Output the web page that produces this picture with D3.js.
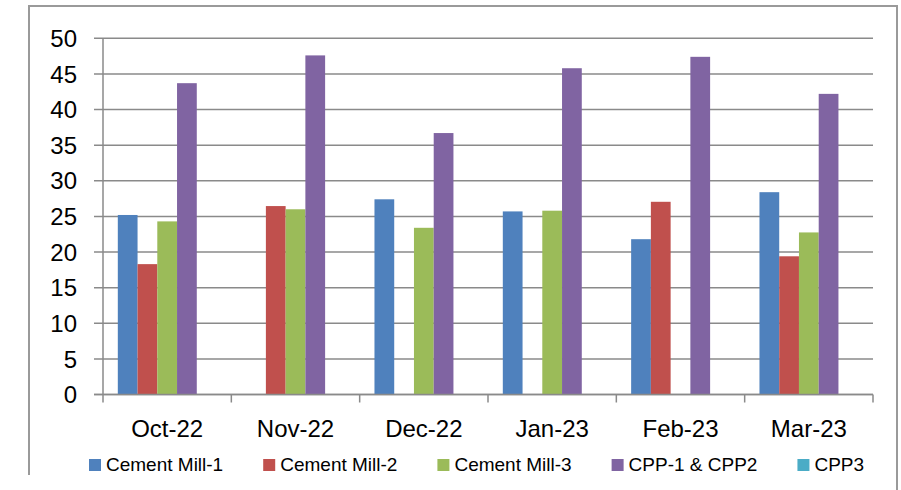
<!DOCTYPE html>
<html><head><meta charset="utf-8">
<script src="https://cdn.jsdelivr.net/npm/d3@7/dist/d3.min.js"></script>
<style>body{margin:0;background:#fff}svg{display:block}text{font-family:"Liberation Sans",Arial,sans-serif;fill:#000}</style>
</head><body><svg id="c" width="901" height="490"></svg>
<script>
const categories = ["Oct-22","Nov-22","Dec-22","Jan-23","Feb-23","Mar-23"];
const seriesNames = ["Cement Mill-1","Cement Mill-2","Cement Mill-3","CPP-1 & CPP2","CPP3"];
const cementMill1 = [25.2, 0, 27.4, 25.7, 21.8, 28.4];
const cementMill2 = [18.3, 26.45, 0, 0, 27.05, 19.4];
const cementMill3 = [24.3, 26.0, 23.4, 25.8, 0, 22.75];
const cpp12 = [43.7, 47.6, 36.7, 45.8, 47.4, 42.2];
const cpp3 = [0, 0, 0, 0, 0, 0];
const yTicks = [0,5,10,15,20,25,30,35,40,45,50];
const colors = ["#4F81BD","#C0504D","#9BBB59","#8064A2","#4BACC6"];

(function(){
const seriesValues = [cementMill1, cementMill2, cementMill3, cpp12, cpp3];
const svg = d3.select("#c");
const pLeft = 103, pRight = 873, pTop = 38.3, pBottom = 394.5;
const grid = "#8a8a8a";

// frame
svg.append("path").attr("d", `M29,475 V6 H897 V490`).attr("fill","none").attr("stroke","#9a9a9a").attr("stroke-width",2);

const x = d3.scaleBand().domain(categories).range([pLeft, pRight]).paddingInner(0).paddingOuter(0);
const y = d3.scaleLinear().domain([0,50]).range([pBottom, pTop]);
const xs = d3.scaleBand().domain(seriesNames).range([0, x.bandwidth()]).paddingInner(0).paddingOuter(0.75);

// gridlines
svg.append("g").selectAll("line").data(yTicks).join("line")
  .attr("x1", pLeft-9).attr("x2", pRight).attr("y1", d=>y(d)).attr("y2", d=>y(d))
  .attr("stroke", grid).attr("stroke-width", 1.5);

// y axis line
svg.append("line").attr("x1",pLeft).attr("x2",pLeft).attr("y1",pTop).attr("y2",pBottom+8).attr("stroke",grid).attr("stroke-width",1.5);
// category ticks
const bounds = categories.map(c=>x(c)).concat([pRight]);
svg.append("g").selectAll("line").data(bounds.slice(1)).join("line")
  .attr("x1", d=>d).attr("x2", d=>d).attr("y1", pBottom).attr("y2", pBottom+8)
  .attr("stroke", grid).attr("stroke-width",1.5);

// y labels
svg.append("g").selectAll("text").data(yTicks).join("text")
  .attr("x", 77).attr("y", d=>y(d)).attr("dy","0.36em").attr("text-anchor","end")
  .attr("font-size", 24).text(d=>d);

// bars
seriesNames.forEach((s,i)=>{
  svg.append("g").selectAll("rect").data(categories).join("rect")
    .attr("x", c=>x(c)+xs(s)).attr("width", xs.bandwidth())
    .attr("y", (c,j)=>y(seriesValues[i][j])).attr("height",(c,j)=>pBottom - y(seriesValues[i][j]))
    .attr("fill", colors[i]);
});
svg.append("line").attr("x1",pLeft-9).attr("x2",pRight).attr("y1",pBottom).attr("y2",pBottom).attr("stroke",grid).attr("stroke-width",1.5);

// x labels
svg.append("g").selectAll("text").data(categories).join("text")
  .attr("x", c=>x(c)+x.bandwidth()/2).attr("y", 437).attr("text-anchor","middle")
  .attr("font-size", 24).text(c=>c);

// legend
const lg = svg.append("g");
let lx = 89;
seriesNames.forEach((s,i)=>{
  lg.append("rect").attr("x", lx).attr("y", 459).attr("width", 12).attr("height", 12).attr("fill", colors[i]);
  const t = lg.append("text").attr("x", lx+17).attr("y", 470.5).attr("font-size", 19).text(s);
  lx += 17 + t.node().getComputedTextLength() + 40;
});
})();
</script></body></html>
